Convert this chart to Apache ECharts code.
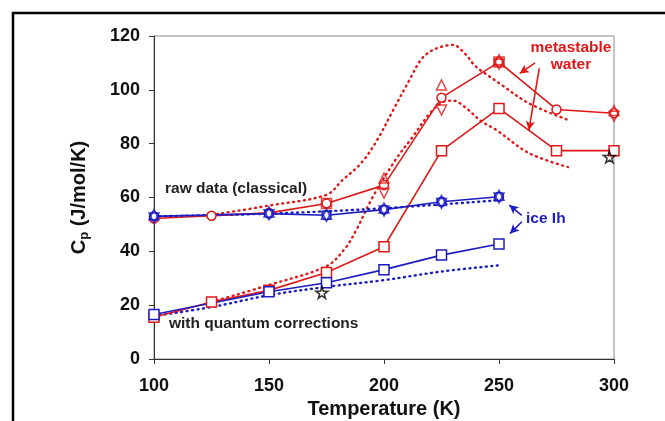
<!DOCTYPE html>
<html><head><meta charset="utf-8">
<script src="https://cdn.jsdelivr.net/npm/echarts@6/dist/echarts.min.js"></script>
<style>html,body{margin:0;padding:0;background:#fff}#c{width:665px;height:421px}</style>
</head><body><div id="c"></div>
<script>
// ---- data ----
const xTicks = [100, 150, 200, 250, 300];
const yTicks = [0, 20, 40, 60, 80, 100, 120];

const waterT = [100, 125, 150, 175, 200, 225, 250, 275, 300];
const waterClassical = [52.2, 53.2, 54.3, 57.8, 64.6, 97.1, 110.3, 92.7, 91.3];
const waterQuantum = [15.5, 21.2, 25.5, 32.1, 41.7, 77.4, 93.1, 77.4, 77.4];
const waterUpT = [200, 225, 250, 300];
const waterUp = [67.2, 101.8, 111.2, 92.3];
const waterDownT = [200, 225, 250, 300];
const waterDown = [61.6, 92.5, 109.5, 90.2];
const waterSqT = [175, 250];
const waterSq = [57.8, 110.3];

const iceT = [100, 150, 175, 200, 225, 250];
const iceClassical = [53.0, 54.0, 53.4, 55.5, 58.4, 60.3];
const iceUp = [53.6, 54.6, 53.8, 56.1, 58.9, 60.8];
const iceDown = [52.4, 53.6, 53.0, 55.0, 57.8, 59.8];
const iceQuantumT = [100, 150, 175, 200, 225, 250];
const iceQuantum = [16.5, 25.0, 28.3, 33.2, 38.6, 42.7];

const waterClassicalDotT = [125, 150, 175, 182, 190, 197, 204, 211, 216, 220, 225, 230, 235, 240, 246, 250, 263, 280];
const waterClassicalDot = [53.5, 57.0, 61.0, 66.5, 72.7, 81.3, 92.5, 103.6, 111.1, 114.2, 116.0, 116.7, 113.6, 108.6, 104.9, 102.5, 95.0, 88.8];
const waterQuantumDotT = [125, 150, 175, 183, 188, 195, 205, 212, 220, 226, 230, 236, 242, 249, 263, 280];
const waterQuantumDot = [21.2, 27.5, 34.5, 41.0, 48.0, 60.0, 74.0, 82.0, 91.3, 95.6, 96.0, 93.0, 88.5, 85.0, 76.5, 71.3];
const iceClassicalDotT = [100, 150, 200, 250];
const iceClassicalDot = [53.0, 54.0, 56.0, 59.0];
const iceQuantumDotT = [100, 125, 150, 175, 200, 225, 250];
const iceQuantumDot = [16.0, 19.3, 23.7, 26.8, 29.3, 32.5, 34.8];

const starT = [173, 298];
const starV = [24.7, 75.1];

// annotation arrows [from, to] in data coordinates
const waterArrows = [[[265.7, 110], [259, 106.1]], [[267.5, 108], [263, 85]]];
const iceArrows = [[[259.9, 53.4], [254.5, 57.2]], [[259.9, 51], [254.8, 46.6]]];

// ---- styling ----
const RED = '#e01818';
const BLUE = '#1c1cc0';
const FONT = '"Liberation Sans", Arial, sans-serif';
const pairs = (xs, ys) => xs.map((x, i) => [x, ys[i]]);
const STAR = 'path://M50,0 L61,35 L98,35 L68,57 L79,91 L50,70 L21,91 L32,57 L2,35 L39,35 Z';

function solid(data, color, symbol, size) {
  return {
    type: 'line', data: data, symbol: symbol, symbolSize: size, showAllSymbol: true,
    lineStyle: { color: color, width: 1.6 },
    itemStyle: { color: '#fff', borderColor: color, borderWidth: 1.5 },
    z: 5, silent: true, animation: false
  };
}
function dotted(data, color) {
  return {
    type: 'line', data: data, showSymbol: false, symbol: 'none', smooth: 0.35,
    lineStyle: { color: color, width: 2.4, type: [1, 4.5], cap: 'round' },
    z: 3, silent: true, animation: false
  };
}
function marks(data, color, symbol, size, rot) {
  return {
    type: 'scatter', data: data, symbol: symbol, symbolSize: size, symbolRotate: rot || 0,
    itemStyle: { color: 'rgba(255,255,255,0)', borderColor: color, borderWidth: 1.5 },
    z: 6, silent: true, animation: false
  };
}
function arrows(list, color) {
  return {
    type: 'line', data: [], silent: true, animation: false,
    markLine: {
      silent: true, animation: false, symbol: ['none', 'arrow'], symbolSize: [7, 9],
      label: { show: false },
      lineStyle: { color: color, width: 1.6, type: 'solid' },
      data: list.map(a => [{ coord: a[0] }, { coord: a[1] }])
    }
  };
}

const chart = echarts.init(document.getElementById('c'), null, { renderer: 'canvas' });
chart.setOption({
  animation: false,
  backgroundColor: '#fff',
  grid: { left: 154, right: 51, top: 36, bottom: 62, show: true, borderColor: '#8a8a8a', borderWidth: 1, containLabel: false, outerBoundsMode: 'none' },
  xAxis: {
    type: 'value', min: xTicks[0], max: xTicks[xTicks.length - 1], interval: 50,
    name: 'Temperature (K)', nameLocation: 'middle', nameGap: 35,
    nameTextStyle: { fontFamily: FONT, fontWeight: 'bold', fontSize: 20, color: '#111' },
    axisLine: { lineStyle: { color: '#333', width: 1 } },
    axisTick: { show: true, inside: false, length: 5, lineStyle: { color: '#333' } },
    axisLabel: { margin: 18, fontFamily: FONT, fontWeight: 'bold', fontSize: 18, color: '#111' },
    splitLine: { show: false }
  },
  yAxis: {
    type: 'value', min: yTicks[0], max: yTicks[yTicks.length - 1], interval: 20,
    name: '{c|C}{p|p}{c| (J/mol/K)}', nameLocation: 'middle', nameGap: 63, nameRotate: 90,
    nameTextStyle: {
      rich: {
        c: { fontFamily: FONT, fontWeight: 'bold', fontSize: 20, color: '#111' },
        p: { fontFamily: FONT, fontWeight: 'bold', fontSize: 13, color: '#111', verticalAlign: 'bottom', padding: [11, 0, 0, 0] }
      }
    },
    axisLine: { show: true, lineStyle: { color: '#333', width: 1 } },
    axisTick: { show: true, inside: false, length: 5, lineStyle: { color: '#333' } },
    axisLabel: { margin: 14, fontFamily: FONT, fontWeight: 'bold', fontSize: 18, color: '#111' },
    splitLine: { show: false }
  },
  graphic: [
    { type: 'rect', shape: { x: 13, y: 13, width: 700, height: 500 }, style: { fill: 'none', stroke: '#000', lineWidth: 2.5 }, silent: true, z: 100 },
    { type: 'text', x: 165, y: 189, style: { text: 'raw data (classical)', font: 'bold 15.5px ' + FONT, fill: '#222', verticalAlign: 'middle' }, z: 50 },
    { type: 'text', x: 169, y: 324, style: { text: 'with quantum corrections', font: 'bold 15.5px ' + FONT, fill: '#222', verticalAlign: 'middle' }, z: 50 },
    { type: 'text', x: 571, y: 48, style: { text: 'metastable', font: 'bold 15.5px ' + FONT, fill: RED, align: 'center', verticalAlign: 'middle' }, z: 50 },
    { type: 'text', x: 571, y: 65, style: { text: 'water', font: 'bold 15.5px ' + FONT, fill: RED, align: 'center', verticalAlign: 'middle' }, z: 50 },
    { type: 'text', x: 526, y: 219, style: { text: 'ice Ih', font: 'bold 15.5px ' + FONT, fill: BLUE, verticalAlign: 'middle' }, z: 50 }
  ],
  series: [
    dotted(pairs(waterClassicalDotT, waterClassicalDot), RED),
    dotted(pairs(waterQuantumDotT, waterQuantumDot), RED),
    dotted(pairs(iceClassicalDotT, iceClassicalDot), BLUE),
    dotted(pairs(iceQuantumDotT, iceQuantumDot), BLUE),
    solid(pairs(waterT, waterClassical), RED, 'circle', 9),
    solid(pairs(waterT, waterQuantum), RED, 'rect', 10),
    solid(pairs(iceT, iceClassical), BLUE, 'circle', 9),
    solid(pairs(iceQuantumT, iceQuantum), BLUE, 'rect', 10),
    marks(pairs(waterUpT, waterUp), RED, 'triangle', 10, 0),
    marks(pairs(waterDownT, waterDown), RED, 'triangle', 10, 180),
    marks(pairs(waterSqT, waterSq), RED, 'rect', 10, 0),
    marks(pairs(iceT, iceUp), BLUE, 'triangle', 10, 0),
    marks(pairs(iceT, iceDown), BLUE, 'triangle', 10, 180),
    marks(pairs(starT, starV), '#000', STAR, 12, 0),
    arrows(waterArrows, RED),
    arrows(iceArrows, BLUE)
  ]
});
</script>
</body></html>
